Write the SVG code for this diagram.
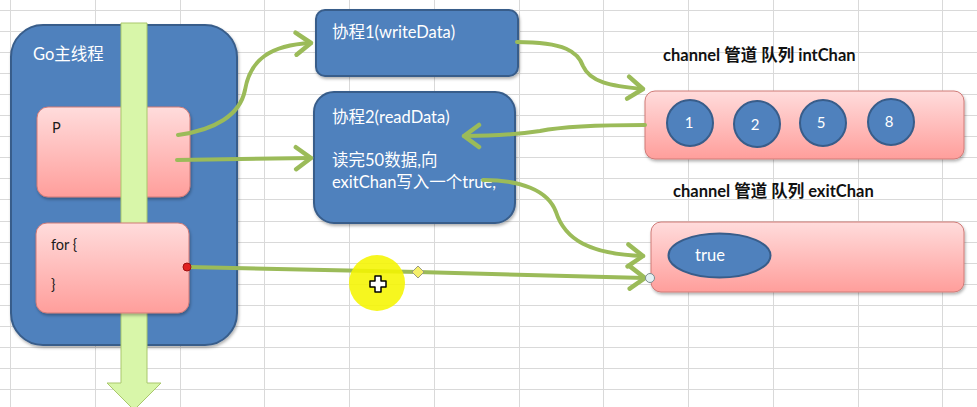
<svg xmlns="http://www.w3.org/2000/svg" width="977" height="407" viewBox="0 0 977 407">
<defs>
<style>
.grid{stroke:#d9d9d9;stroke-width:1;fill:none}
.blue{fill:#4f81bd;stroke:#385d8a;stroke-width:2}
.pink{fill:url(#pinkGrad);stroke:#d07a77;stroke-width:1}
.conn{fill:none;stroke:#9bbb59;stroke-width:4;stroke-linecap:round;stroke-linejoin:round}
.wt{fill:#ffffff;font-family:Lato,"Noto Sans CJK SC",sans-serif;font-size:16.5px}
.bt{fill:#1a1a1a;font-family:Lato,"Noto Sans CJK SC",sans-serif;font-size:14.5px}
.lbl{fill:#111111;font-family:Lato,"Noto Sans CJK SC",sans-serif;font-size:16.5px;font-weight:bold}
.num{fill:#ffffff;font-family:Lato,"Noto Sans CJK SC",sans-serif;font-size:15px;text-anchor:middle}
.ball{fill:#4f81bd;stroke:#385d8a;stroke-width:2}
</style>
<linearGradient id="pinkGrad" x1="0" y1="0" x2="0" y2="1">
<stop offset="0" stop-color="#ffdcdc"/>
<stop offset="1" stop-color="#ff9e9b"/>
</linearGradient>
<filter id="shadow" x="-10%" y="-10%" width="125%" height="130%">
<feDropShadow dx="1" dy="2" stdDeviation="1.5" flood-color="#000" flood-opacity="0.3"/>
</filter>
<marker id="chev" markerUnits="userSpaceOnUse" markerWidth="24" markerHeight="28" viewBox="0 0 24 28" refX="19" refY="14" orient="auto">
<path d="M4,3 L19,14 L4,25" fill="none" stroke="#9bbb59" stroke-width="4.5" stroke-linecap="round" stroke-linejoin="round"/>
</marker>
</defs>
<rect x="0" y="0" width="977" height="407" fill="#ffffff"/>
<g id="grid" class="grid">
<path d="M10.5,0V407M95.5,0V407M180.5,0V407M264.5,0V407M349.5,0V407M434.5,0V407M519.5,0V407M603.5,0V407M688.5,0V407M773.5,0V407M858.5,0V407M942.5,0V407"/>
<path d="M0,10.5H977M0,31.5H977M0,52.5H977M0,73.5H977M0,94.5H977M0,115.5H977M0,136.5H977M0,157.5H977M0,178.5H977M0,199.5H977M0,221.5H977M0,242.5H977M0,263.5H977M0,284.5H977M0,305.5H977M0,326.5H977M0,347.5H977M0,368.5H977M0,389.5H977"/>
</g>
<g id="go-main">
<rect class="blue" x="11" y="25" width="226" height="320" rx="32" ry="32" filter="url(#shadow)"/>
<text class="wt" x="33" y="60">Go主线程</text>
</g>
<g id="p-box">
<rect class="pink" x="37" y="107" width="153" height="90" rx="11" ry="11" filter="url(#shadow)"/>
<text class="bt" x="52" y="133">P</text>
</g>
<g id="main-flow">
<path d="M121,23 L147,23 L147,383 L161,383 L134,410 L107,383 L121,383 Z" fill="#d8f6a9" stroke="#a9c76c" stroke-width="1"/>
</g>
<g id="for-box">
<rect class="pink" x="36" y="223" width="153" height="90" rx="11" ry="11" filter="url(#shadow)"/>
<text class="bt" x="51" y="250">for {</text>
<text class="bt" x="51" y="290">}</text>
</g>
<g id="goroutine1">
<rect class="blue" x="316" y="10" width="202" height="66" rx="9" ry="9" filter="url(#shadow)"/>
<text class="wt" x="332" y="38">协程1(writeData)</text>
</g>
<g id="goroutine2">
<rect class="blue" x="314" y="92" width="201" height="131" rx="20" ry="20" filter="url(#shadow)"/>
<text class="wt" x="332" y="123">协程2(readData)</text>
<text class="wt" x="332" y="166">读完50数据,向</text>
<text class="wt" x="332" y="188">exitChan写入一个true,</text>
</g>
<g id="intChan">
<text class="lbl" x="663" y="61">channel 管道 队列 intChan</text>
<rect class="pink" x="645" y="91" width="319" height="68" rx="10" ry="10" filter="url(#shadow)"/>
<circle class="ball" cx="690" cy="123" r="23"/>
<text class="num" x="689" y="128">1</text>
<circle class="ball" cx="757" cy="124" r="23"/>
<text class="num" x="755" y="130">2</text>
<circle class="ball" cx="823" cy="123" r="23"/>
<text class="num" x="821" y="128">5</text>
<circle class="ball" cx="891" cy="122" r="23"/>
<text class="num" x="889" y="127">8</text>
</g>
<g id="exitChan">
<text class="lbl" x="673" y="197">channel 管道 队列 exitChan</text>
<rect class="pink" x="651" y="222" width="313" height="70" rx="10" ry="10" filter="url(#shadow)"/>
<ellipse class="ball" cx="719.5" cy="255.5" rx="51" ry="22"/>
<text class="wt" x="710" y="261" text-anchor="middle">true</text>
</g>
<g id="connectors">
<path class="conn" d="M178,135 C215,130 240,115 245,90 C250,60 270,45 311,43" marker-end="url(#chev)"/>
<path class="conn" d="M177,160 L311,158" marker-end="url(#chev)"/>
<path class="conn" d="M517,42 C565,42 578,52 583,66 C590,82 610,86 643,89" marker-end="url(#chev)"/>
<path class="conn" d="M645,125 C590,125 560,127 540,131 C520,134 495,136 464,136" marker-end="url(#chev)"/>
<path class="conn" d="M483,180 C520,180 548,190 556,212 C565,240 590,254 643,256" marker-end="url(#chev)"/>
<path class="conn" d="M188,267 L418,272 L645,278" marker-end="url(#chev)"/>
<circle cx="187" cy="267" r="4" fill="#e02020" stroke="#a01010" stroke-width="1"/>
<path d="M418,266 L424,272 L418,278 L412,272 Z" fill="#f5ef6a" stroke="#9a9a80" stroke-width="1"/>
<circle cx="650" cy="278" r="4.5" fill="#e4f1f4" stroke="#7a8c90" stroke-width="1"/>
</g>
<g id="cursor">
<circle cx="377" cy="283" r="28" fill="#f5f500" opacity="0.88"/>
<path d="M375,276 L381,276 L381,281 L386,281 L386,287 L381,287 L381,292 L375,292 L375,287 L370,287 L370,281 L375,281 Z" fill="#ffffff" stroke="#000000" stroke-width="1.5" stroke-linejoin="round"/>
</g>
</svg>
